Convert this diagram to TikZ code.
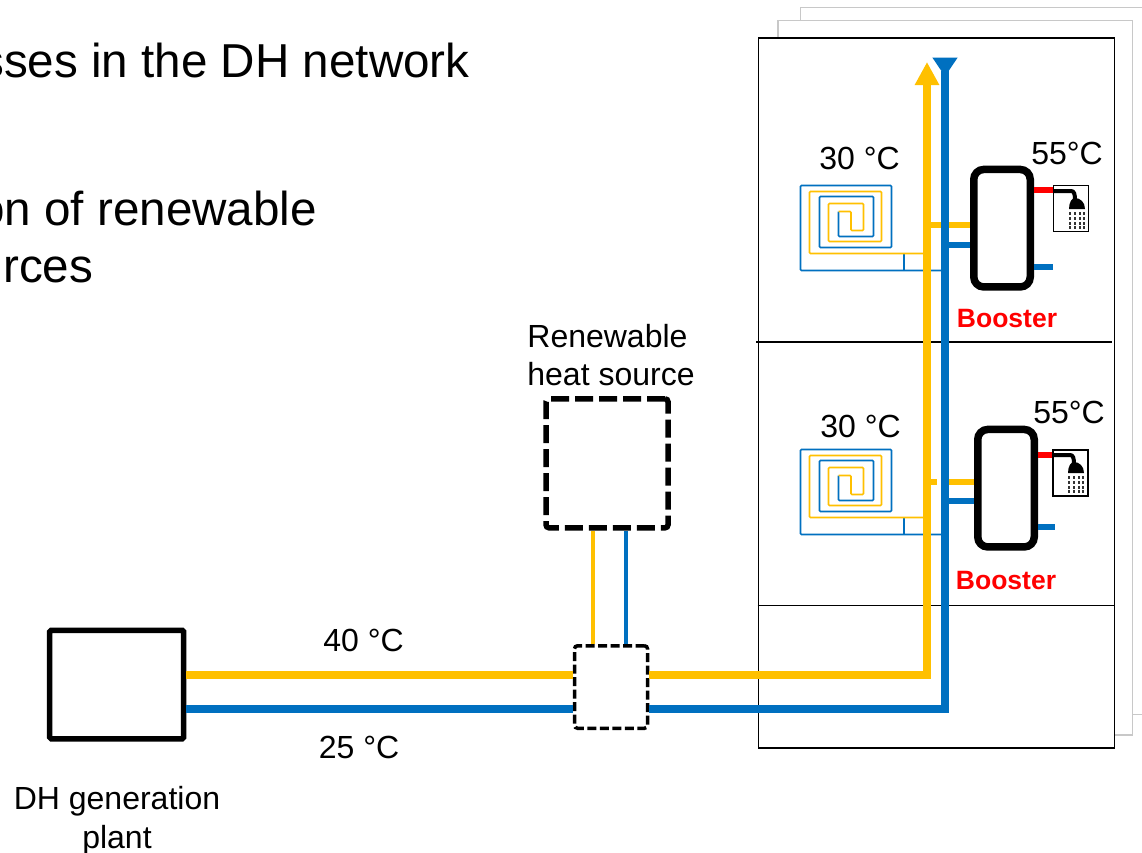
\documentclass[tikz,border=0pt]{standalone}
\usepackage{fontspec}
\setmainfont{Liberation Sans}
\usetikzlibrary{arrows.meta, positioning, calc}
\definecolor{myyellow}{RGB}{255,192,0}
\definecolor{myblue}{RGB}{0,112,192}
\definecolor{myred}{RGB}{255,0,0}
\definecolor{mygray}{RGB}{200,200,200}
\newcommand{\lbl}[1]{\fontsize{#1}{#1}\selectfont}
\tikzset{
  txt/.style={inner sep=0pt, align=center, font=\lbl{32}},
  heading/.style={inner sep=0pt, anchor=base west, font=\lbl{47.6}},
  tempc/.style={inner sep=0pt, font=\lbl{32}},
  boost/.style={inner sep=0pt, text=myred, font=\lbl{26.5}\bfseries},
  plantbox/.style={draw, line width=5.5pt, rounded corners=1.5pt, minimum width=134pt, minimum height=108.5pt},
  sourcebox/.style={draw, line width=5.5pt, dash pattern=on 18pt off 6pt, rounded corners=3pt, minimum width=122pt, minimum height=129pt},
  mixbox/.style={draw, line width=3.5pt, dash pattern=on 9pt off 3.5pt, rounded corners=3pt, minimum width=73pt, minimum height=82.5pt},
  house/.style={draw, line width=1.8pt, minimum width=356pt, minimum height=710pt, fill=white},
  sheet/.style={draw=mygray, line width=1.2pt},
  tank/.style={draw, line width=7.5pt, rounded corners=10pt, minimum width=56.5pt, minimum height=117.5pt},
  showerbox/.style={draw, line width=1.3pt, fill=white, minimum width=35pt, minimum height=46pt},
  hot/.style={draw=myyellow, line width=8pt},
  cold/.style={draw=myblue, line width=8pt},
  thinhot/.style={draw=myyellow, line width=6pt},
  thincold/.style={draw=myblue, line width=6pt},
  riserhot/.style={draw=myyellow, line width=4.2pt},
  risercold/.style={draw=myblue, line width=4.2pt},
  tap/.style={draw=myred, line width=6pt},
  coilhot/.style={draw=myyellow, line width=1.6pt, rounded corners=1pt},
  coilcold/.style={draw=myblue, line width=1.6pt, rounded corners=1pt},
}
% floor heating coil
\newcommand{\coil}[2]{
\begin{scope}[shift={(#1,#2)}]
\draw[coilcold] (103.5,68) -- (103.5,85);
\draw[coilcold] (145,85) -- (0,85) -- (0,0) -- (91,0) -- (91,62) -- (19,62) -- (19,11) -- (73,11) -- (73,51) -- (38,51) -- (38,26);
\draw[coilhot] (38,26) -- (50.5,26) -- (50.5,45) -- (63,45) -- (63,18) -- (28,18) -- (28,56) -- (81,56) -- (81,6) -- (9,6) -- (9,68) -- (127,68);
\end{scope}
}
% shower head
\newcommand{\showerhead}[2]{
\begin{scope}[shift={(#1,#2)}]
\draw[line width=4pt] (-23,-18) -- (-6,-18) .. controls (-3,-18) and (-2,-15) .. (-2,-9);
\fill (-8,0) .. controls (-8,-7) and (-5,-11) .. (-2,-11) .. controls (3,-11) and (8,-7) .. (8,0) -- cycle;
\foreach \xx in {-7.5,-2.5,2.5,7} \foreach \yy in {3,8,13,17} \fill[black!80] (\xx-1,\yy) rectangle ++(2,2.8);
\end{scope}
}
\begin{document}
\begin{tikzpicture}[x=1pt,y=-1pt]
\useasboundingbox (0,0) rectangle (1142,852);
\node[heading] (lineA) at (-20,77) {sses in the DH network};
\node[heading] (lineB) at (-22,225) {on of renewable};
\node[heading] (lineC) at (3,282) {rces};
% stacked buildings
\draw[sheet] (800.5,21) -- (800.5,7.5) -- (1142,7.5);
\draw[sheet] (778,38) -- (778,20.7) -- (1132.5,20.7) -- (1132.5,735) -- (1115,735);
\draw[sheet] (1132.5,714.7) -- (1142,714.7);
\node[house] (bldg) at (936.5,393) {};
\draw[line width=1.2pt] (756,342) -- (1112,342);
\draw[line width=1.2pt] (bldg.west |- 0,605.5) -- (bldg.east |- 0,605.5);
% plant, source, substation
\node[plantbox] (plant) at (116.7,684.5) {};
\node[sourcebox] (source) at (607,463.3) {};
\node[mixbox] (mix) at (611,687) {};
\node[txt] (plantlbl) at (117,820.5) {DH generation\\[6.5pt]plant};
\node[txt, align=left] (sourcelbl) at (611,355) {Renewable\\[6.5pt]heat source};
\node[tempc] (tsup) at (363.5,640) {40 °C};
\node[tempc] (tret) at (359,747) {25 °C};
\draw[hot] (plant.east |- 0,674.5) -- (mix.west |- 0,674.5);
\draw[cold] (plant.east |- 0,708.5) -- (mix.west |- 0,708.5);
\draw[riserhot] (source.south -| 593,0) -- (mix.north -| 593,0);
\draw[risercold] (source.south -| 626,0) -- (mix.north -| 626,0);
% upper floor
\coil{800.5}{185.5}
\node[tempc] (tfloorA) at (859.5,158) {30 °C};
\node[tempc] (tdhwA) at (1067,153) {55°C};
\node[tank] (tankA) at (1002,228.2) {};
\node[showerbox] (showerA) at (1071,208.5) {};
\showerhead{1077}{209}
\node[boost] (boostA) at (1007,318.5) {Booster};
\draw[thinhot] (927,225) -- (tankA.west |- 0,225);
\draw[thincold] (945,245) -- (tankA.west |- 0,245);
\draw[tap] (tankA.east |- 0,190.3) -- (showerA.west |- 0,190.3);
\draw[thincold] (tankA.east |- 0,267.3) -- (1053,267.3);
% lower floor
\coil{800.5}{449.5}
\node[tempc] (tfloorB) at (860.5,426) {30 °C};
\node[tempc] (tdhwB) at (1069,412) {55°C};
\node[tank] (tankB) at (1006,488.2) {};
\node[showerbox] (showerB) at (1070.5,473) {};
\showerhead{1076}{473}
\node[boost] (boostB) at (1006,580.5) {Booster};
\draw[thinhot] (927,482) -- (937,482);
\draw[thinhot] (949,482) -- (tankB.west |- 0,482);
\draw[thincold] (945,501) -- (tankB.west |- 0,501);
\draw[tap] (tankB.east |- 0,455) -- (showerB.west |- 0,455);
\draw[thincold] (tankB.east |- 0,526.7) -- (1054.5,526.7);
% main pipes
\coordinate (hotend) at (927,62);
\coordinate (coldend) at (945,57.5);
\draw[hot, -{Triangle[length=23pt,width=23pt]}] (mix.east |- 0,674.5) -- (927,674.5) -- (hotend);
\draw[cold, {Triangle[length=19pt,width=24pt,reversed]}-] (coldend) -- (945,708.5) -- (mix.east |- 0,708.5);
\end{tikzpicture}
\end{document}
